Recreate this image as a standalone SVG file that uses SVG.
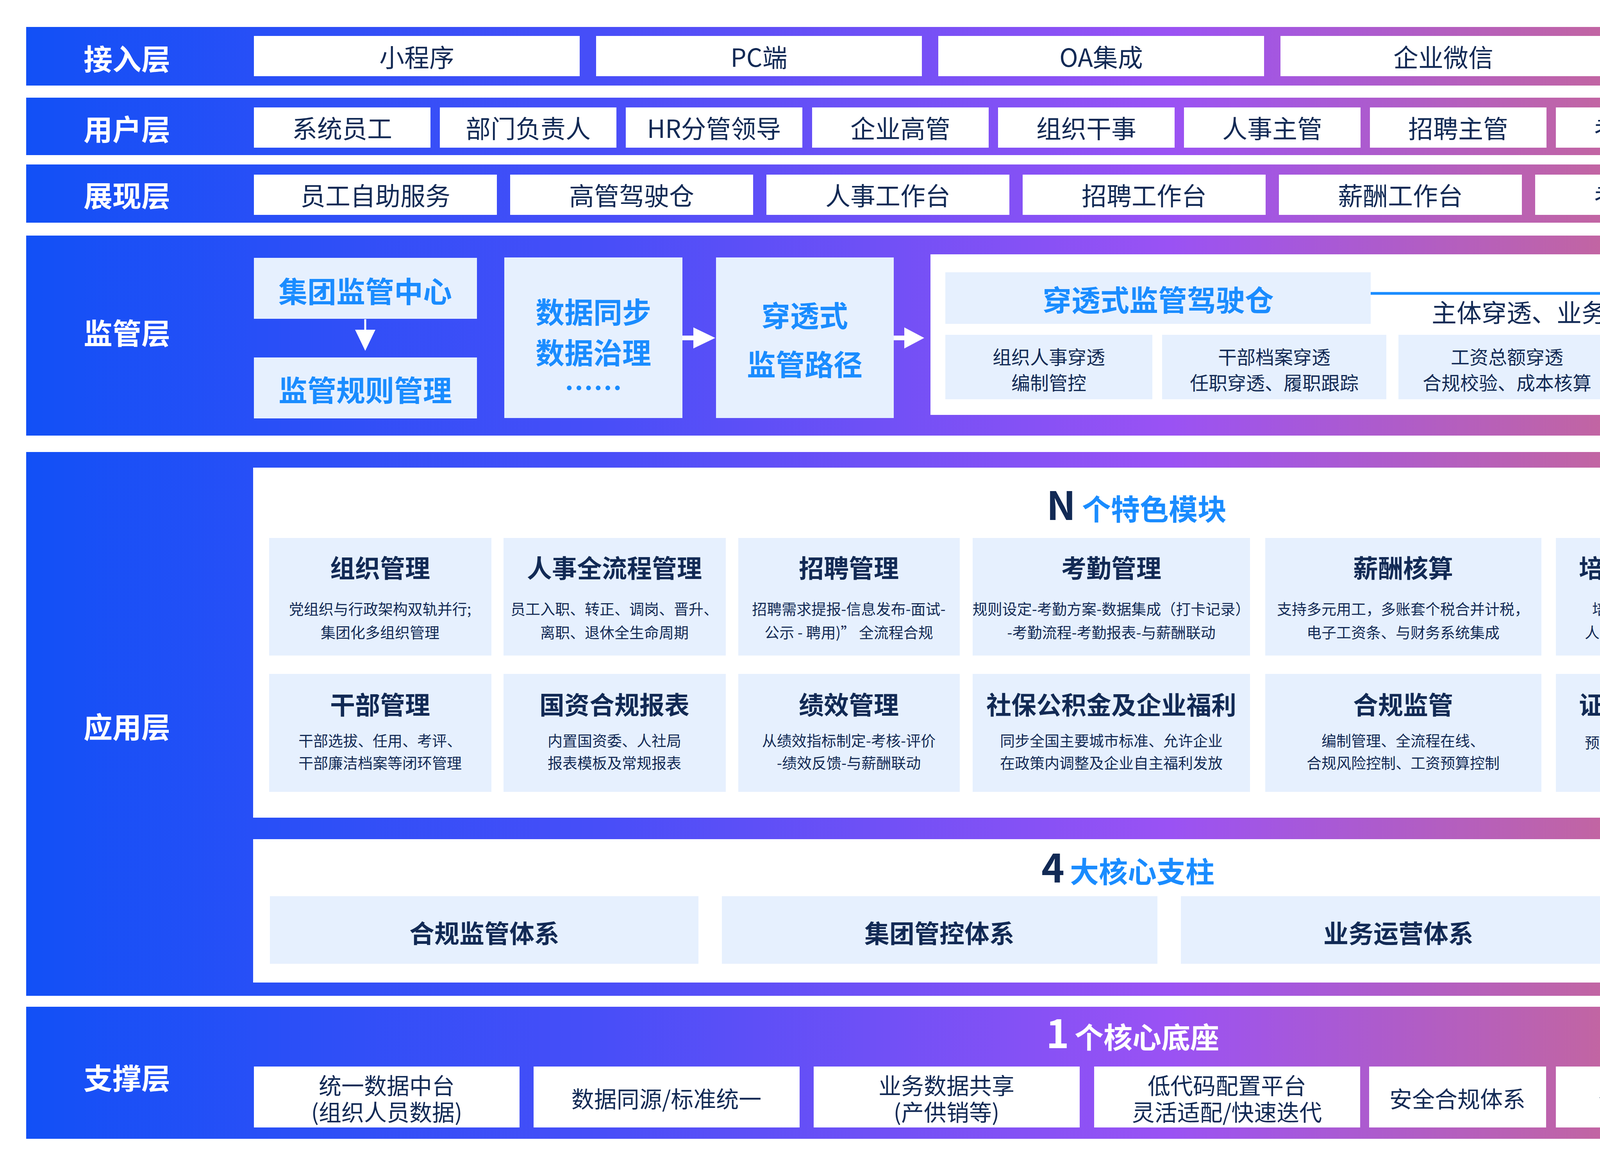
<svg xmlns="http://www.w3.org/2000/svg" width="6000" height="3000" viewBox="0 0 6000 3000">
<defs>
<linearGradient id="band" gradientUnits="userSpaceOnUse" x1="67" y1="0" x2="5918" y2="0">
<stop offset="0" stop-color="#1250F6"/>
<stop offset="0.25" stop-color="#474EF8"/>
<stop offset="0.5" stop-color="#9A52F4"/>
<stop offset="0.7" stop-color="#C4669E"/>
<stop offset="0.85" stop-color="#DC7376"/>
<stop offset="1" stop-color="#F9833A"/>
</linearGradient>
<linearGradient id="svc" x1="0" y1="0" x2="0" y2="1">
<stop offset="0" stop-color="#E7EFFD"/>
<stop offset="1" stop-color="#F5F8FF"/>
</linearGradient>
<marker id="blueHead" markerWidth="38" markerHeight="36" refX="38" refY="18" orient="auto" markerUnits="userSpaceOnUse">
<polygon points="0,0 38,18 0,36" fill="#1A8CFF"/>
</marker>
</defs>
<style>
text{font-family:'Noto Sans CJK SC','Noto Sans',sans-serif;dominant-baseline:central;text-anchor:middle}
.band{fill:url(#band)}
.wbox{fill:#FFFFFF}
.card{fill:#E6F0FE}
.svc{fill:url(#svc)}
.lbl{fill:#FFFFFF;font-size:74px;font-weight:700}
.t64{fill:#122A55;font-size:64px}
.t58{fill:#122A55;font-size:58px}
.t48{fill:#122A55;font-size:48px}
.d38{fill:#122A55;font-size:38px}
.h64{fill:#122A55;font-size:64px;font-weight:700}
.h58{fill:#122A55;font-size:58px;font-weight:700}
.bl74{fill:#1A8CFF;font-size:74px;font-weight:700}
.big{font-weight:700;text-anchor:start;dominant-baseline:alphabetic}
</style>

<!-- 接入层 -->
<g id="layer-access">
<rect class="band" x="67" y="69" width="5851" height="150"/>
<text class="lbl" x="325" y="146">接入层</text>
<g id="acc-1"><rect class="wbox" x="650" y="92" width="834" height="103"/><text class="t64" x="1067" y="143">小程序</text></g>
<g id="acc-2"><rect class="wbox" x="1526" y="92" width="834" height="103"/><text class="t64" x="1943" y="143">PC端</text></g>
<g id="acc-3"><rect class="wbox" x="2402" y="92" width="834" height="103"/><text class="t64" x="2819" y="143">OA集成</text></g>
<g id="acc-4"><rect class="wbox" x="3278" y="92" width="834" height="103"/><text class="t64" x="3695" y="143">企业微信</text></g>
<g id="acc-5"><rect class="wbox" x="4154" y="92" width="834" height="103"/><text class="t64" x="4571" y="143">钉钉</text></g>
<g id="acc-6"><rect class="wbox" x="5030" y="92" width="834" height="103"/><text class="t64" x="5447" y="143">飞书</text></g>
</g>

<!-- 用户层 -->
<g id="layer-user">
<rect class="band" x="67" y="250" width="5851" height="147"/>
<text class="lbl" x="325" y="326">用户层</text>
<g id="usr-1"><rect class="wbox" x="650" y="275" width="452" height="103"/><text class="t64" x="876" y="325">系统员工</text></g>
<g id="usr-2"><rect class="wbox" x="1126" y="275" width="452" height="103"/><text class="t64" x="1352" y="325">部门负责人</text></g>
<g id="usr-3"><rect class="wbox" x="1602" y="275" width="452" height="103"/><text class="t64" x="1828" y="325">HR分管领导</text></g>
<g id="usr-4"><rect class="wbox" x="2079" y="275" width="452" height="103"/><text class="t64" x="2305" y="325">企业高管</text></g>
<g id="usr-5"><rect class="wbox" x="2555" y="275" width="452" height="103"/><text class="t64" x="2781" y="325">组织干事</text></g>
<g id="usr-6"><rect class="wbox" x="3031" y="275" width="452" height="103"/><text class="t64" x="3257" y="325">人事主管</text></g>
<g id="usr-7"><rect class="wbox" x="3507" y="275" width="452" height="103"/><text class="t64" x="3733" y="325">招聘主管</text></g>
<g id="usr-8"><rect class="wbox" x="3983" y="275" width="452" height="103"/><text class="t64" x="4209" y="325">考核主管</text></g>
<g id="usr-9"><rect class="wbox" x="4460" y="275" width="452" height="103"/><text class="t64" x="4686" y="325">干部主管</text></g>
<g id="usr-10"><rect class="wbox" x="4936" y="275" width="452" height="103"/><text class="t64" x="5162" y="325">薪酬主管</text></g>
<g id="usr-11"><rect class="wbox" x="5412" y="275" width="452" height="103"/><text class="t64" x="5638" y="325">合规风控</text></g>
</g>

<!-- 展现层 -->
<g id="layer-view">
<rect class="band" x="67" y="421" width="5851" height="149"/>
<text class="lbl" x="325" y="496">展现层</text>
<g id="view-1"><rect class="wbox" x="650" y="447" width="622" height="103"/><text class="t64" x="961" y="497">员工自助服务</text></g>
<g id="view-2"><rect class="wbox" x="1306" y="447" width="622" height="103"/><text class="t64" x="1617" y="497">高管驾驶仓</text></g>
<g id="view-3"><rect class="wbox" x="1962" y="447" width="622" height="103"/><text class="t64" x="2273" y="497">人事工作台</text></g>
<g id="view-4"><rect class="wbox" x="2618" y="447" width="622" height="103"/><text class="t64" x="2929" y="497">招聘工作台</text></g>
<g id="view-5"><rect class="wbox" x="3274" y="447" width="622" height="103"/><text class="t64" x="3585" y="497">薪酬工作台</text></g>
<g id="view-6"><rect class="wbox" x="3930" y="447" width="622" height="103"/><text class="t64" x="4241" y="497">考勤工作台</text></g>
<g id="view-7"><rect class="wbox" x="4586" y="447" width="622" height="103"/><text class="t64" x="4897" y="497">干部管理工作台</text></g>
<g id="view-8"><rect class="wbox" x="5242" y="447" width="622" height="103"/><text class="t64" x="5553" y="497">自定义工作台</text></g>
</g>

<!-- 监管层 -->
<g id="layer-supervise">
<rect class="band" x="67" y="603" width="5851" height="512"/>
<text class="lbl" x="325" y="848">监管层</text>
<g id="sup-center"><rect class="card" x="650" y="660" width="571" height="156"/><text class="bl74" x="935" y="741">集团监管中心</text></g>
<g id="sup-rule"><rect class="card" x="650" y="915" width="571" height="156"/><text class="bl74" x="935" y="994">监管规则管理</text></g>
<g id="sup-data"><rect class="card" x="1291" y="659" width="456" height="411"/>
<text class="bl74" x="1519" y="794">数据同步</text><text class="bl74" x="1519" y="898">数据治理</text><text class="bl74" x="1519" y="988">……</text></g>
<g id="sup-path"><rect class="card" x="1833" y="659" width="455" height="411"/>
<text class="bl74" x="2060" y="803">穿透式</text><text class="bl74" x="2060" y="928">监管路径</text></g>
<g id="sup-panel"><rect class="wbox" x="2382" y="651" width="3482" height="411"/></g>
<g id="sup-cockpit"><rect class="card" x="2420" y="697" width="1089" height="132"/><text class="bl74" x="2965" y="763">穿透式监管驾驶仓</text></g>
<g id="sup-alert"><rect class="card" x="4722" y="697" width="1083" height="132"/><text class="bl74" x="5263" y="763">异常预警与整改督办</text></g>
<g id="pen-1"><rect class="card" x="2420" y="857" width="530" height="165"/><text class="t48" x="2685" y="911">组织人事穿透</text><text class="t48" x="2685" y="977">编制管控</text></g>
<g id="pen-2"><rect class="card" x="2975" y="857" width="574" height="165"/><text class="t48" x="3262" y="911">干部档案穿透</text><text class="t48" x="3262" y="977">任职穿透、履职跟踪</text></g>
<g id="pen-3"><rect class="card" x="3580" y="857" width="556" height="165"/><text class="t48" x="3858" y="911">工资总额穿透</text><text class="t48" x="3858" y="977">合规校验、成本核算</text></g>
<g id="pen-4"><rect class="card" x="4161" y="857" width="528" height="165"/><text class="t48" x="4425" y="911">员工全生命周期穿透</text><text class="t48" x="4425" y="977">用工穿透、档案追溯</text></g>
<g id="pen-5"><rect class="card" x="4718" y="857" width="528" height="165"/><text class="t48" x="4982" y="911">社保公积与福利穿透</text><text class="t48" x="4982" y="977">缴费与政策适配</text></g>
<g id="pen-6"><rect class="card" x="5273" y="857" width="530" height="165"/><text class="t48" x="5538" y="911">考勤与劳动力穿透</text><text class="t48" x="5538" y="977">用工合规</text></g>
</g>

<!-- 应用层 -->
<g id="layer-app">
<rect class="band" x="67" y="1157" width="5851" height="1392"/>
<text class="lbl" x="325" y="1856">应用层</text>
<rect class="wbox" x="648" y="1197" width="4717" height="896"/>
<text class="big" x="2679" y="1331"><tspan fill="#122A55" font-size="100">N</tspan><tspan fill="#1A8CFF" font-size="74" dx="16">个特色模块</tspan></text>

<g id="mod-org"><rect class="card" x="689" y="1377" width="569" height="301"/><text class="h64" x="973" y="1450">组织管理</text><text class="d38" x="973" y="1556">党组织与行政架构双轨并行;</text><text class="d38" x="973" y="1616">集团化多组织管理</text></g>
<g id="mod-hr"><rect class="card" x="1289" y="1377" width="569" height="301"/><text class="h64" x="1573" y="1450">人事全流程管理</text><text class="d38" x="1573" y="1556">员工入职、转正、调岗、晋升、</text><text class="d38" x="1573" y="1616">离职、退休全生命周期</text></g>
<g id="mod-recruit"><rect class="card" x="1890" y="1377" width="567" height="301"/><text class="h64" x="2173" y="1450">招聘管理</text><text class="d38" x="2173" y="1556">招聘需求提报-信息发布-面试-</text><text class="d38" x="2173" y="1616">公示 - 聘用)”  全流程合规</text></g>
<g id="mod-attend"><rect class="card" x="2490" y="1377" width="710" height="301"/><text class="h64" x="2845" y="1450">考勤管理</text><text class="d38" x="2845" y="1556" font-size="37">规则设定-考勤方案-数据集成（打卡记录）</text><text class="d38" x="2845" y="1616">-考勤流程-考勤报表-与薪酬联动</text></g>
<g id="mod-pay"><rect class="card" x="3239" y="1377" width="707" height="301"/><text class="h64" x="3592" y="1450">薪酬核算</text><text class="d38" x="3592" y="1556">支持多元用工，多账套个税合并计税，</text><text class="d38" x="3592" y="1616">电子工资条、与财务系统集成</text></g>
<g id="mod-train"><rect class="card" x="3983" y="1377" width="566" height="301"/><text class="h64" x="4266" y="1450">培训与人才发展</text><text class="d38" x="4266" y="1556">培训计划制定与执行，</text><text class="d38" x="4266" y="1616">人才标签、精准人才发现</text></g>
<g id="mod-cadre"><rect class="card" x="689" y="1725" width="569" height="302"/><text class="h64" x="973" y="1800">干部管理</text><text class="d38" x="973" y="1893">干部选拔、任用、考评、</text><text class="d38" x="973" y="1950">干部廉洁档案等闭环管理</text></g>
<g id="mod-sasac"><rect class="card" x="1289" y="1725" width="569" height="302"/><text class="h64" x="1573" y="1800">国资合规报表</text><text class="d38" x="1573" y="1893">内置国资委、人社局</text><text class="d38" x="1573" y="1950">报表模板及常规报表</text></g>
<g id="mod-perf"><rect class="card" x="1890" y="1725" width="567" height="302"/><text class="h64" x="2173" y="1800">绩效管理</text><text class="d38" x="2173" y="1893">从绩效指标制定-考核-评价</text><text class="d38" x="2173" y="1950">-绩效反馈-与薪酬联动</text></g>
<g id="mod-welfare"><rect class="card" x="2490" y="1725" width="710" height="302"/><text class="h64" x="2845" y="1800">社保公积金及企业福利</text><text class="d38" x="2845" y="1893">同步全国主要城市标准、允许企业</text><text class="d38" x="2845" y="1950">在政策内调整及企业自主福利发放</text></g>
<g id="mod-comply"><rect class="card" x="3239" y="1725" width="707" height="302"/><text class="h64" x="3592" y="1800">合规监管</text><text class="d38" x="3592" y="1893">编制管理、全流程在线、</text><text class="d38" x="3592" y="1950">合规风险控制、工资预算控制</text></g>
<g id="mod-cert"><rect class="card" x="3983" y="1725" width="566" height="302"/><text class="h64" x="4266" y="1800">证件与职称管理</text><text class="d38" x="4266" y="1898">预置职称，支持不同职级</text><text class="d38" x="4266" y="1955">对应薪资标准的制定</text></g>
<g id="mod-integ"><rect class="card" x="4583" y="1379" width="728" height="648"/><text class="h64" x="4947" y="1444">系统集成</text>
<rect class="wbox" x="4611" y="1499" width="673" height="276"/>
<text class="h58" x="4947" y="1556">科研系统</text>
<text class="t58" x="4784" y="1633">项目档案</text><text class="t58" x="5086" y="1633">工时数据</text>
<text class="t58" x="4784" y="1708">劳务数据</text><text class="t58" x="5086" y="1708">经费预算</text>
<rect class="wbox" x="4611" y="1807" width="673" height="185"/>
<text class="h58" x="4947" y="1860">财务系统</text><text class="t58" x="4947" y="1938">工资总额预算</text></g>

<rect class="wbox" x="648" y="2148" width="4716" height="367"/>
<text class="big" x="2666" y="2259"><tspan fill="#122A55" font-size="100">4</tspan><tspan fill="#1A8CFF" font-size="74" dx="14">大核心支柱</tspan></text>
<g id="pil-1"><rect class="card" x="691" y="2294" width="1097" height="173"/><text class="h64" x="1240" y="2385">合规监管体系</text></g>
<g id="pil-2"><rect class="card" x="1848" y="2294" width="1115" height="173"/><text class="h64" x="2405" y="2385">集团管控体系</text></g>
<g id="pil-3"><rect class="card" x="3023" y="2294" width="1114" height="173"/><text class="h64" x="3580" y="2385">业务运营体系</text></g>
<g id="pil-4"><rect class="card" x="4198" y="2294" width="1114" height="173"/><text class="h64" x="4755" y="2385">员工服务体系</text></g>

<g id="svc-panel"><rect class="wbox" x="5415" y="1197" width="457" height="1318"/><text class="bl74" x="5644" y="1288">服务生态</text>
<rect class="svc" x="5453" y="1378" width="381" height="118"/><text class="t64" x="5644" y="1437">简历解析</text>
<rect class="svc" x="5453" y="1517" width="381" height="118"/><text class="t64" x="5644" y="1576">电子签</text>
<rect class="svc" x="5453" y="1656" width="381" height="118"/><text class="t64" x="5644" y="1715">BI报表</text>
<rect class="svc" x="5453" y="1795" width="381" height="118"/><text class="t64" x="5644" y="1854">在线学习</text>
<rect class="svc" x="5453" y="1934" width="381" height="118"/><text class="t64" x="5644" y="1993">人才测评</text>
<rect class="svc" x="5453" y="2073" width="381" height="118"/><text class="t64" x="5644" y="2132">线上考试</text>
<rect class="svc" x="5453" y="2212" width="381" height="118"/><text class="t64" x="5644" y="2271">个税服务</text>
<rect class="svc" x="5453" y="2351" width="381" height="118"/><text class="t64" x="5644" y="2410">……</text></g>
</g>

<!-- 支撑层 -->
<g id="layer-base">
<rect class="band" x="67" y="2577" width="5851" height="338"/>
<text class="lbl" x="325" y="2755">支撑层</text>
<text class="big" x="2678" y="2683"><tspan fill="#FFFFFF" font-size="100">1</tspan><tspan fill="#FFFFFF" font-size="74" dx="14">个核心底座</tspan></text>
<g id="base-1"><rect class="wbox" x="650" y="2730" width="680" height="156"/><text class="t58" x="990" y="2776">统一数据中台</text><text class="t58" x="990" y="2844">(组织人员数据)</text></g>
<g id="base-2"><rect class="wbox" x="1366" y="2730" width="681" height="156"/><text class="t58" x="1706" y="2810">数据同源/标准统一</text></g>
<g id="base-3"><rect class="wbox" x="2083" y="2730" width="681" height="156"/><text class="t58" x="2423" y="2776">业务数据共享</text><text class="t58" x="2423" y="2844">(产供销等)</text></g>
<g id="base-4"><rect class="wbox" x="2801" y="2730" width="681" height="156"/><text class="t58" x="3141" y="2776">低代码配置平台</text><text class="t58" x="3141" y="2844">灵活适配/快速迭代</text></g>
<g id="base-5"><rect class="wbox" x="3505" y="2730" width="453" height="156"/><text class="t58" x="3731" y="2810">安全合规体系</text></g>
<g id="base-6"><rect class="wbox" x="3983" y="2730" width="452" height="156"/><text class="t58" x="4209" y="2810">信创适配</text></g>
<g id="base-7"><rect class="wbox" x="4460" y="2730" width="451" height="156"/><text class="t58" x="4685" y="2810">客开框架</text></g>
<g id="base-8"><rect class="wbox" x="4934" y="2730" width="453" height="156"/><text class="t58" x="5160" y="2810">集成连接平台</text></g>
<g id="base-9"><rect class="wbox" x="5410" y="2730" width="454" height="156"/><text class="t58" x="5637" y="2810">OpenAPI</text></g>
</g>

<!-- connectors -->
<g id="connectors">
<line x1="935" y1="817" x2="935" y2="850" stroke="#FFFFFF" stroke-width="5"/>
<polygon points="909,844 961,844 935,898" fill="#FFFFFF"/>
<rect x="1747" y="859" width="32" height="12" fill="#FFFFFF"/>
<polygon points="1775,838 1831,865 1775,892" fill="#FFFFFF"/>
<rect x="2288" y="859" width="31" height="12" fill="#FFFFFF"/>
<polygon points="2315,838 2366,865 2315,892" fill="#FFFFFF"/>
<line x1="3509" y1="751" x2="4731" y2="751" stroke="#1A8CFF" stroke-width="7" marker-end="url(#blueHead)"/>
<text class="t64" x="4113" y="796">主体穿透、业务穿透、流程穿透</text>
</g>
</svg>
